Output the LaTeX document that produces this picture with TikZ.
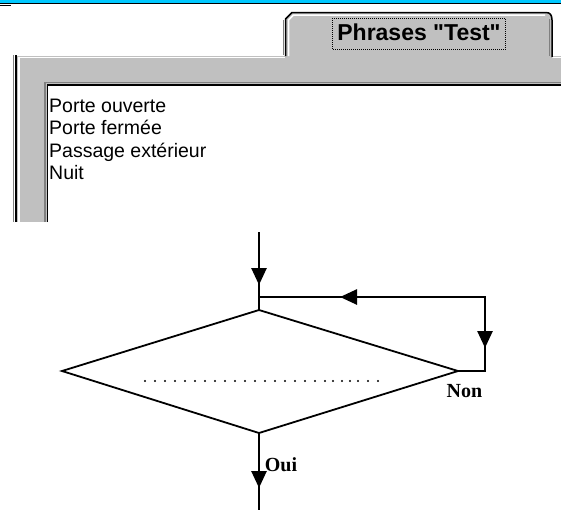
\documentclass[tikz,border=0pt]{standalone}
\usepackage{fontspec}
\setmainfont{Liberation Serif}
\newfontfamily\winfont{Liberation Sans}
\usetikzlibrary{arrows.meta,decorations.markings}
\definecolor{winblue}{RGB}{0,200,255}
\definecolor{wingrey}{RGB}{192,192,192}
\definecolor{windark}{RGB}{128,128,128}
\tikzset{
  flowline/.style={line width=2.6pt, line cap=rect},
  diamline/.style={line width=1.8pt, line join=miter},
  midarrow/.style={postaction={decorate},
    decoration={markings, mark=at position #1 with {\arrow{Triangle[length=17pt,width=15pt]}}}},
  listtext/.style={anchor=base west, inner sep=0pt, font=\winfont\fontsize{19.5}{20}\selectfont},
  lbl/.style={inner sep=0pt, font=\bfseries\fontsize{20}{20}\selectfont}
}
\begin{document}
\begin{tikzpicture}[x=1pt,y=-1pt]
\useasboundingbox (0,0) rectangle (561,509);
% window title bar remnant
\fill[winblue] (0,0) rectangle (561,3.3);
\fill[black] (0,3.3) rectangle (561,4.4);
\fill[black] (0,4.5) rectangle (11,5.6);
% panel
\fill[wingrey] (15,56) rectangle (561,222);
\fill[white] (48,85) rectangle (561,222);
\draw[windark, line width=1.5pt] (45,222) -- (45,82.5) -- (561,82.5);
\draw[black, line width=1.5pt] (47.5,222) -- (47.5,85) -- (561,85);
\draw[windark, line width=1pt] (13.5,222) -- (13.5,55);
\draw[black, line width=2pt] (16,222) -- (16,55);
\draw[white, line width=1.5pt] (18.8,222) -- (18.8,57.5) -- (285,57.5);
\draw[white, line width=1.5pt] (552,57.5) -- (561,57.5);
% tab
\fill[wingrey] (285.5,57) -- (285.5,19) -- (292,12.5) -- (546,12.5)
  .. controls (550,12.5) and (552,15) .. (552,20) -- (552,57) -- cycle;
\draw[white, line width=1.5pt] (288.5,56) -- (288.5,20) -- (293.5,15) -- (545,15);
\draw[windark, line width=1.5pt] (549.3,19) -- (549.3,56);
\draw[windark, line width=1pt] (283.3,55) -- (283.3,19.5);
\draw[black, line width=1.5pt] (285.5,56) -- (285.5,19) -- (292,12.5) -- (546,12.5)
  .. controls (550,12.5) and (552,15) .. (552,20) -- (552,57);
\draw[line width=1pt, dash pattern=on 1pt off 1pt] (332.5,18) rectangle (505,49.5);
\node[inner sep=0pt, font=\winfont\bfseries\fontsize{23}{23}\selectfont] (tab) at (419,32.5) {Phrases "Test"};
% list
\node[listtext] (l1) at (49,112.5) {Porte ouverte};
\node[listtext] (l2) at (49,134.8) {Porte fermée};
\node[listtext] (l3) at (49,157.1) {Passage extérieur};
\node[listtext] (l4) at (49,179.4) {Nuit};
% flowchart
\coordinate (in) at (259,233);
\coordinate (dtop) at (259,310);
\coordinate (dright) at (458,371);
\coordinate (dbottom) at (259,433);
\coordinate (dleft) at (62,371);
\coordinate (join) at (259,297);
\coordinate (corner) at (485,297);
\coordinate (rlow) at (485,371);
\coordinate (out) at (259,509);
\draw[diamline] (dtop) -- (dright) -- (dbottom) -- (dleft) -- cycle;
\draw[flowline, midarrow=52pt] (in) -- (dtop);
\draw[flowline, midarrow=145pt] (corner) -- (join);
\draw[flowline, midarrow=51pt] (corner) -- (rlow);
\draw[flowline] (dright) -- (rlow);
\draw[flowline, midarrow=55pt] (dbottom) -- (out);
\foreach \x in {145,155,165,175,185,195,205,215,225,235,245,255,265,275,285,295,305,315,325,333,342,350,358,368,378}
  \fill (\x,381) circle (1.1pt);
\node[lbl] (non) at (464.5,391) {Non};
\node[lbl] (oui) at (281,465) {Oui};
\end{tikzpicture}
\end{document}
